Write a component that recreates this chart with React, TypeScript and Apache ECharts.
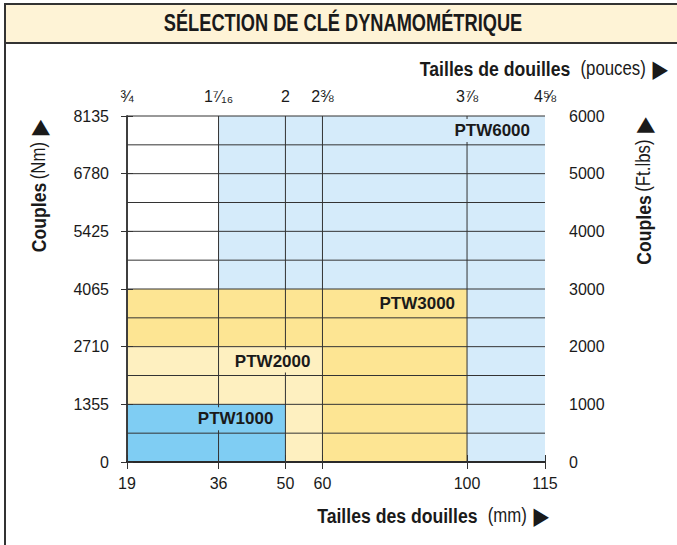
import React, { useEffect, useRef } from 'react';
import * as echarts from 'echarts';

// ---- data ----
const xTicksMm = [19, 36, 50, 60, 100, 115];
const xTicksInch = ['¾', '1⁷⁄₁₆', '2', '2⅜', '3⅞', '4⅝'];
const yTicksNm = ['0', '1355', '2710', '4065', '5425', '6780', '8135'];
const yTicksFtLbs = ['0', '1000', '2000', '3000', '4000', '5000', '6000'];

const models = ['PTW6000', 'PTW3000', 'PTW2000', 'PTW1000'];
const minSocketMm = [36, 19, 19, 19];
const maxSocketMm = [115, 100, 60, 50];
const maxTorqueFtLbs = [6000, 3000, 2000, 1000];
const torqueMaxFtLbs = 6000;
const gridStepFtLbs = 500;

// ---- layout / style ----
// relative place of each mm tick along the (non-linear) socket axis
const X_TICK_FRAC = [0, 0.219, 0.379, 0.4676, 0.8135, 1];
const modelColors = ['#d5ebfa', '#fde593', '#fef0c0', '#7fcdf3'];
const LINE = '#333333';
const TXT = '#1a1a1a';
const SANS = '"Liberation Sans", Arial, Helvetica, sans-serif';
const COND = 0.84;

function mapX(mm: number): number {
  for (let i = 0; i < xTicksMm.length - 1; i++) {
    const a = xTicksMm[i];
    const b = xTicksMm[i + 1];
    if (mm >= a && mm <= b) {
      return X_TICK_FRAC[i] + ((mm - a) / (b - a)) * (X_TICK_FRAC[i + 1] - X_TICK_FRAC[i]);
    }
  }
  return mm < xTicksMm[0] ? 0 : 1;
}
const xTickPos = xTicksMm.map(mapX);
function tickIndex(v: number): number {
  let best = 0;
  for (let i = 0; i < xTickPos.length; i++) {
    if (Math.abs(xTickPos[i] - v) < Math.abs(xTickPos[best] - v)) best = i;
  }
  return best;
}

const hNameRich = {
  b: { fontFamily: SANS, fontWeight: 'bold', fontSize: 21, fill: TXT, padding: [0, 12, 0, 0] },
  n: { fontFamily: SANS, fontSize: 20, fill: TXT, padding: [0, 8, 0, 0] },
  t: { fontFamily: 'DejaVu Sans', fontSize: 24, fill: TXT },
};
const vNameRich = {
  b: { fontFamily: SANS, fontWeight: 'bold', fontSize: 21, fill: TXT, padding: [0, 4, 0, 0] },
  n: { fontFamily: SANS, fontSize: 20, fill: TXT, padding: [0, 8, 0, 0] },
  t: { fontFamily: 'DejaVu Sans', fontSize: 24, fill: TXT },
};

export default function App() {
  const ref = useRef<HTMLDivElement>(null);
  useEffect(() => {
    if (!ref.current) return;
    const chart = echarts.init(ref.current, undefined, { renderer: 'svg' });

    const regionData = models.map((m, i) => [mapX(minSocketMm[i]), mapX(maxSocketMm[i]), maxTorqueFtLbs[i]]);
    const gridData: number[][] = [];
    xTicksMm.slice(1, -1).forEach((mm) => gridData.push([0, mapX(mm)]));
    for (let v = gridStepFtLbs; v <= torqueMaxFtLbs; v += gridStepFtLbs) gridData.push([1, v]);

    const xAxisCommon = {
      type: 'value',
      min: 0,
      max: 1,
      z: 5,
      splitLine: { show: false },
      axisLine: { show: true, lineStyle: { color: LINE, width: 1.5 } },
      axisTick: { show: true, customValues: xTickPos, length: 7, lineStyle: { color: LINE, width: 1 } },
    };
    const yAxisCommon = {
      type: 'value',
      min: 0,
      max: torqueMaxFtLbs,
      interval: 1000,
      z: 5,
      splitLine: { show: false },
      axisLine: { show: true, lineStyle: { color: LINE, width: 1.5 } },
      axisTick: { show: true, length: 6, lineStyle: { color: LINE, width: 1 } },
    };

    chart.setOption({
      animation: false,
      backgroundColor: '#ffffff',
      grid: { left: 127, right: 132, top: 116, bottom: 83, containLabel: false },
      xAxis: [
        {
          ...xAxisCommon,
          position: 'bottom',
          axisLine: { show: true, lineStyle: { color: '#111', width: 2 } },
          axisLabel: {
            customValues: xTickPos,
            margin: 13,
            color: TXT,
            fontFamily: SANS,
            fontSize: 16,
            formatter: (v: number) => String(xTicksMm[tickIndex(v)]),
          },
        },
        {
          ...xAxisCommon,
          position: 'top',
          axisLabel: {
            customValues: xTickPos,
            margin: 12,
            color: TXT,
            fontFamily: SANS,
            fontSize: 16,
            formatter: (v: number) => xTicksInch[tickIndex(v)],
          },
        },
      ],
      yAxis: [
        {
          ...yAxisCommon,
          position: 'left',
          axisLabel: {
            margin: 18,
            color: TXT,
            fontFamily: SANS,
            fontSize: 16,
            formatter: (v: number) => yTicksNm[Math.round(v / 1000)],
          },
        },
        {
          ...yAxisCommon,
          position: 'right',
          axisLabel: {
            margin: 24,
            color: TXT,
            fontFamily: SANS,
            fontSize: 16,
            formatter: (v: number) => yTicksFtLbs[Math.round(v / 1000)],
          },
        },
      ],
      series: [
        {
          type: 'custom',
          name: 'regions',
          z: 1,
          xAxisIndex: 0,
          yAxisIndex: 1,
          data: regionData,
          renderItem: (params: any, api: any) => {
            const p0 = api.coord([api.value(0), 0]);
            const p1 = api.coord([api.value(1), api.value(2)]);
            return {
              type: 'rect',
              shape: { x: p0[0], y: p1[1], width: p1[0] - p0[0], height: p0[1] - p1[1] },
              style: { fill: modelColors[params.dataIndex] },
            };
          },
        },
        {
          type: 'custom',
          name: 'grid',
          z: 2,
          xAxisIndex: 0,
          yAxisIndex: 1,
          data: gridData,
          renderItem: (params: any, api: any) => {
            const kind = api.value(0);
            const v = api.value(1);
            let a, b;
            if (kind === 0) {
              a = api.coord([v, 0]);
              b = api.coord([v, torqueMaxFtLbs]);
            } else {
              a = api.coord([0, v]);
              b = api.coord([1, v]);
            }
            return {
              type: 'line',
              shape: { x1: a[0], y1: a[1], x2: b[0], y2: b[1] },
              style: { stroke: LINE, lineWidth: 1 },
            };
          },
        },
        {
          type: 'custom',
          name: 'labels',
          z: 3,
          xAxisIndex: 0,
          yAxisIndex: 1,
          data: regionData,
          renderItem: (params: any, api: any) => {
            const i = params.dataIndex;
            const p = api.coord([api.value(1), api.value(2)]);
            const half = (api.coord([0, 0])[1] - api.coord([0, gridStepFtLbs])[1]) / 2;
            return {
              type: 'text',
              x: p[0] - (i === 0 ? 11 : 8),
              y: p[1] + half,
              style: {
                text: models[i],
                fill: TXT,
                fontFamily: SANS,
                fontWeight: 'bold',
                fontSize: 17,
                align: 'right',
                verticalAlign: 'middle',
                backgroundColor: modelColors[i],
                padding: [3, 4, 3, 4],
              },
            };
          },
        },
      ],
      graphic: [
        {
          type: 'rect',
          z: 0,
          shape: { x: 5, y: 4, width: 720, height: 600 },
          style: { fill: 'none', stroke: '#333', lineWidth: 2 },
        },
        {
          type: 'rect',
          z: 0,
          shape: { x: 5, y: 4, width: 720, height: 39 },
          style: { fill: '#fef3d6', stroke: '#333', lineWidth: 2 },
        },
        {
          type: 'text',
          x: 343,
          y: 23,
          scaleX: 0.76,
          style: {
            text: 'SÉLECTION DE CLÉ DYNAMOMÉTRIQUE',
            fill: TXT,
            fontFamily: SANS,
            fontWeight: 'bold',
            fontSize: 24,
            align: 'center',
            verticalAlign: 'middle',
          },
        },
        {
          type: 'text',
          x: 668,
          y: 68,
          scaleX: COND,
          style: {
            text: '{b|Tailles de douilles}{n|(pouces)}{t|▶}',
            align: 'right',
            verticalAlign: 'middle',
            rich: hNameRich,
          },
        },
        {
          type: 'text',
          x: 549,
          y: 515,
          scaleX: COND,
          style: {
            text: '{b|Tailles des douilles}{n|(mm)}{t|▶}',
            align: 'right',
            verticalAlign: 'middle',
            rich: hNameRich,
          },
        },
        {
          type: 'text',
          x: 38,
          y: 186,
          rotation: Math.PI / 2,
          scaleX: COND,
          style: {
            text: '{b|Couples}{n|(Nm)}{t|▶}',
            align: 'center',
            verticalAlign: 'middle',
            rich: vNameRich,
          },
        },
        {
          type: 'text',
          x: 643,
          y: 191,
          rotation: Math.PI / 2,
          scaleX: COND,
          style: {
            text: '{b|Couples}{n|(Ft.lbs)}{t|▶}',
            align: 'center',
            verticalAlign: 'middle',
            rich: vNameRich,
          },
        },
      ],
    });
    return () => chart.dispose();
  }, []);
  return <div ref={ref} style={{ position: 'fixed', left: 0, top: 0, width: 677, height: 545 }} />;
}
